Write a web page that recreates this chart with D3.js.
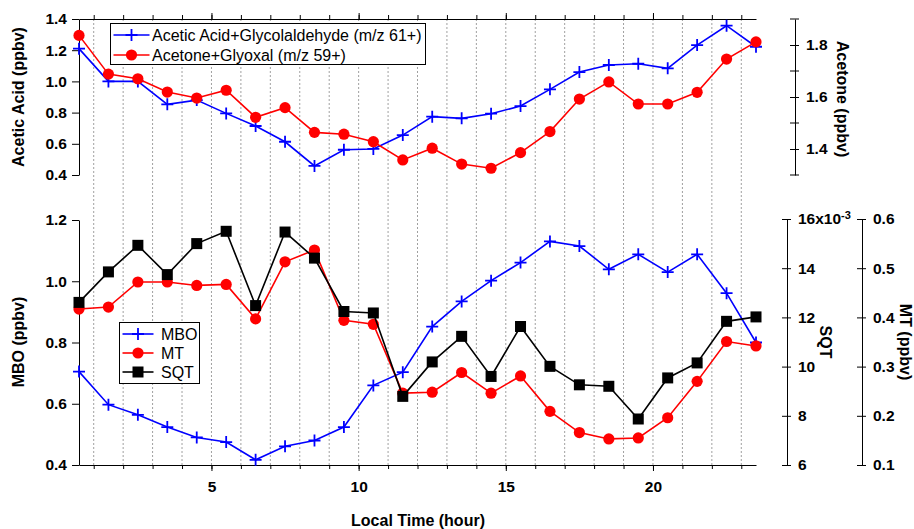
<!DOCTYPE html>
<html>
<head>
<meta charset="utf-8">
<script src="https://cdn.jsdelivr.net/npm/d3@7"></script>
<style>
  body { margin: 0; background: #fff; }
  svg { display: block; font-family: "Liberation Sans", Arial, sans-serif; }
  .tick text { font-size: 15.5px; font-weight: bold; fill: #000; }
  .title { font-size: 16px; font-weight: bold; }
  .leg { font-size: 16px; }
</style>
</head>
<body>
<svg id="chart" width="914" height="529"></svg>
<script>
// hours of day (bin centres)
var hours = [0.5, 1.5, 2.5, 3.5, 4.5, 5.5, 6.5, 7.5, 8.5, 9.5, 10.5, 11.5,
             12.5, 13.5, 14.5, 15.5, 16.5, 17.5, 18.5, 19.5, 20.5, 21.5, 22.5, 23.5];

// top panel
var aceticAcid = [1.21, 1.00, 1.00, 0.853, 0.88, 0.795, 0.714, 0.613, 0.458, 0.562, 0.567, 0.656,
                  0.774, 0.763, 0.793, 0.842, 0.949, 1.06, 1.105, 1.113, 1.084, 1.233, 1.357, 1.222];
var acetone = [1.837, 1.688, 1.670, 1.619, 1.596, 1.626, 1.522, 1.559, 1.464, 1.457, 1.428, 1.358,
               1.403, 1.342, 1.326, 1.386, 1.467, 1.592, 1.658, 1.573, 1.573, 1.618, 1.746, 1.812];

// bottom panel
var mbo = [0.705, 0.597, 0.564, 0.524, 0.49, 0.475, 0.417, 0.461, 0.48, 0.524, 0.66, 0.703,
           0.852, 0.934, 1.002, 1.061, 1.13, 1.115, 1.039, 1.088, 1.03, 1.088, 0.961, 0.80];
var mt = [0.417, 0.421, 0.472, 0.472, 0.465, 0.467, 0.397, 0.513, 0.537, 0.394, 0.386, 0.246,
          0.248, 0.288, 0.246, 0.281, 0.209, 0.166, 0.153, 0.155, 0.196, 0.270, 0.351, 0.342];
var sqt = [0.01261, 0.01385, 0.01493, 0.01374, 0.0150, 0.0155, 0.01248, 0.01547, 0.01441, 0.01224, 0.01218, 0.00879,
           0.01019, 0.01123, 0.0096, 0.01163, 0.01001, 0.00926, 0.0092, 0.00787, 0.00954, 0.01015, 0.01184, 0.01202];

// axis ticks
var hourTicks = d3.range(1, 24);
var hourLabels = [5, 10, 15, 20];
var aceticTicks = [0.4, 0.6, 0.8, 1.0, 1.2, 1.4];
var acetoneTicks = [1.4, 1.6, 1.8];
var acetoneMinor = [1.3, 1.5, 1.7, 1.9];
var mboTicks = [0.4, 0.6, 0.8, 1.0, 1.2];
var sqtTicks = [0.006, 0.008, 0.010, 0.012, 0.014, 0.016];
var mtTicks = [0.1, 0.2, 0.3, 0.4, 0.5, 0.6];

var svg = d3.select("#chart");

var x = d3.scaleLinear().domain([0.5, 23.5]).range([79, 756]);
var yAcetic = d3.scaleLinear().domain([0.4, 1.4]).range([175, 19]);
var yAcetone = d3.scaleLinear().domain([1.3, 1.9]).range([175, 19]);
var yMbo = d3.scaleLinear().domain([0.4, 1.2]).range([465, 220]);
var ySqt = d3.scaleLinear().domain([0.006, 0.016]).range([465, 219]);
var yMt = d3.scaleLinear().domain([0.1, 0.6]).range([465, 219]);

// vertical grid
svg.append("g").selectAll("line")
  .data(hourTicks).enter().append("line")
  .attr("x1", function(d) { return x(d); })
  .attr("x2", function(d) { return x(d); })
  .attr("y1", 19).attr("y2", 465)
  .attr("stroke", "#a0a0a0")
  .attr("stroke-width", 1)
  .attr("stroke-dasharray", "2,2");

function plain(g) {
  g.selectAll("path.domain").attr("stroke", "#000");
  g.selectAll(".tick line").attr("stroke", "#000");
}

// top and bottom time axes
svg.append("g").attr("transform", "translate(0,19)")
  .call(d3.axisTop(x).tickValues(hourTicks).tickSize(4).tickSizeOuter(0).tickFormat(""))
  .call(plain);
svg.append("g").attr("transform", "translate(0,19)")
  .call(d3.axisTop(x).tickValues(hourLabels).tickSize(6).tickFormat(""))
  .call(function(g) { g.select(".domain").remove(); plain(g); });
svg.append("g").attr("transform", "translate(0,465)")
  .call(d3.axisBottom(x).tickValues(hourTicks).tickSize(4).tickSizeOuter(0).tickFormat(""))
  .call(plain);
svg.append("g").attr("transform", "translate(0,465)")
  .call(d3.axisBottom(x).tickValues(hourLabels).tickSize(6).tickPadding(10).tickFormat(d3.format("d")))
  .call(function(g) { g.select(".domain").remove(); plain(g); });

// left axes
svg.append("g").attr("transform", "translate(79,0)")
  .call(d3.axisLeft(yAcetic).tickValues(aceticTicks).tickSize(7).tickSizeOuter(0).tickPadding(5).tickFormat(d3.format(".1f")))
  .call(plain);
svg.append("g").attr("transform", "translate(79,0)")
  .call(d3.axisLeft(yMbo).tickValues(mboTicks).tickSize(7).tickSizeOuter(0).tickPadding(5).tickFormat(d3.format(".1f")))
  .call(plain);

// right axes with crossing ticks
function crossAxis(xPos, scale, ticks, fmt, minor) {
  var g = svg.append("g").attr("transform", "translate(" + xPos + ",0)");
  g.call(d3.axisRight(scale).tickValues(ticks).tickSize(4).tickSizeOuter(0).tickPadding(7).tickFormat(fmt))
    .call(plain);
  g.selectAll(".tick line").attr("x1", -5);
  if (minor) {
    g.selectAll("line.minor").data(minor).enter().append("line")
      .attr("class", "minor")
      .attr("x1", -5).attr("x2", 4)
      .attr("y1", function(d) { return scale(d); })
      .attr("y2", function(d) { return scale(d); })
      .attr("stroke", "#000");
  }
  return g;
}
crossAxis(795, yAcetone, acetoneTicks, d3.format(".1f"), acetoneMinor);
var sqtAxis = crossAxis(787, ySqt, sqtTicks, function(d) { return Math.round(d * 1000); });
crossAxis(862, yMt, mtTicks, d3.format(".1f"));

// exponent on the top SQT tick
sqtAxis.selectAll(".tick text").filter(function(d) { return d === 0.016; })
  .text("16x10")
  .append("tspan").attr("dy", "-0.5em").style("font-size", "11px").text("-3");

// axis titles
svg.append("text").attr("class", "title")
  .attr("transform", "translate(24,97) rotate(-90)")
  .attr("text-anchor", "middle").text("Acetic Acid (ppbv)");
svg.append("text").attr("class", "title")
  .attr("transform", "translate(24,342) rotate(-90)")
  .attr("text-anchor", "middle").text("MBO (ppbv)");
svg.append("text").attr("class", "title")
  .attr("transform", "translate(837,99) rotate(90)")
  .attr("text-anchor", "middle").text("Acetone (ppbv)");
svg.append("text").attr("class", "title")
  .attr("transform", "translate(820,342) rotate(90)")
  .attr("text-anchor", "middle").text("SQT");
svg.append("text").attr("class", "title")
  .attr("transform", "translate(900,342) rotate(90)")
  .attr("text-anchor", "middle").text("MT (ppbv)");
svg.append("text").attr("class", "title")
  .attr("x", 418).attr("y", 526)
  .attr("text-anchor", "middle").text("Local Time (hour)");

// series drawing helpers
function drawLine(vals, scale, color) {
  var line = d3.line()
    .x(function(d, i) { return x(hours[i]); })
    .y(function(d) { return scale(d); });
  svg.append("path").datum(vals)
    .attr("fill", "none").attr("stroke", color).attr("stroke-width", 1.6)
    .attr("d", line);
}
function plusMarker(g, cx, cy, color) {
  g.append("path")
    .attr("d", "M" + (cx - 6) + "," + cy + "H" + (cx + 6) + "M" + cx + "," + (cy - 6) + "V" + (cy + 6))
    .attr("stroke", color).attr("stroke-width", 1.8).attr("fill", "none");
}
function drawPlus(vals, scale, color) {
  var g = svg.append("g");
  vals.forEach(function(v, i) { plusMarker(g, x(hours[i]), scale(v), color); });
}
function drawCircles(vals, scale, color) {
  svg.append("g").selectAll("circle").data(vals).enter().append("circle")
    .attr("cx", function(d, i) { return x(hours[i]); })
    .attr("cy", function(d) { return scale(d); })
    .attr("r", 5.6).attr("fill", color);
}
function drawSquares(vals, scale, color) {
  svg.append("g").selectAll("rect").data(vals).enter().append("rect")
    .attr("x", function(d, i) { return x(hours[i]) - 5.5; })
    .attr("y", function(d) { return scale(d) - 5.5; })
    .attr("width", 11).attr("height", 11).attr("fill", color);
}

// top panel
drawLine(aceticAcid, yAcetic, "#0000ff");
drawPlus(aceticAcid, yAcetic, "#0000ff");
drawLine(acetone, yAcetone, "#ff0000");
drawCircles(acetone, yAcetone, "#ff0000");

// bottom panel
drawLine(mbo, yMbo, "#0000ff");
drawPlus(mbo, yMbo, "#0000ff");
drawLine(mt, yMt, "#ff0000");
drawCircles(mt, yMt, "#ff0000");
drawLine(sqt, ySqt, "#000000");
drawSquares(sqt, ySqt, "#000000");

// legends
function legend(x0, y0, w, h, rows, lineW, textX, rowY) {
  var g = svg.append("g");
  g.append("rect").attr("x", x0).attr("y", y0).attr("width", w).attr("height", h)
    .attr("fill", "#fff").attr("stroke", "#000").attr("stroke-width", 1);
  rows.forEach(function(r, i) {
    var yy = rowY[i];
    var xa = x0 + 3, xb = x0 + 3 + lineW, xm = (xa + xb) / 2;
    g.append("line").attr("x1", xa).attr("x2", xb).attr("y1", yy).attr("y2", yy)
      .attr("stroke", r.color).attr("stroke-width", 1.6);
    if (r.mark === "plus") plusMarker(g, xm, yy, r.color);
    if (r.mark === "circle") g.append("circle").attr("cx", xm).attr("cy", yy).attr("r", 5.6).attr("fill", r.color);
    if (r.mark === "square") g.append("rect").attr("x", xm - 5.5).attr("y", yy - 5.5).attr("width", 11).attr("height", 11).attr("fill", r.color);
    g.append("text").attr("class", "leg").attr("x", textX).attr("y", yy).attr("dy", "0.35em").text(r.label);
  });
}
legend(110.5, 23.5, 315, 41, [
  {label: "Acetic Acid+Glycolaldehyde (m/z 61+)", color: "#0000ff", mark: "plus"},
  {label: "Acetone+Glyoxal (m/z 59+)", color: "#ff0000", mark: "circle"}
], 36, 152, [35, 55]);
legend(119.5, 322.5, 80, 61, [
  {label: "MBO", color: "#0000ff", mark: "plus"},
  {label: "MT", color: "#ff0000", mark: "circle"},
  {label: "SQT", color: "#000000", mark: "square"}
], 31, 161, [334, 353, 372]);
</script>
</body>
</html>
